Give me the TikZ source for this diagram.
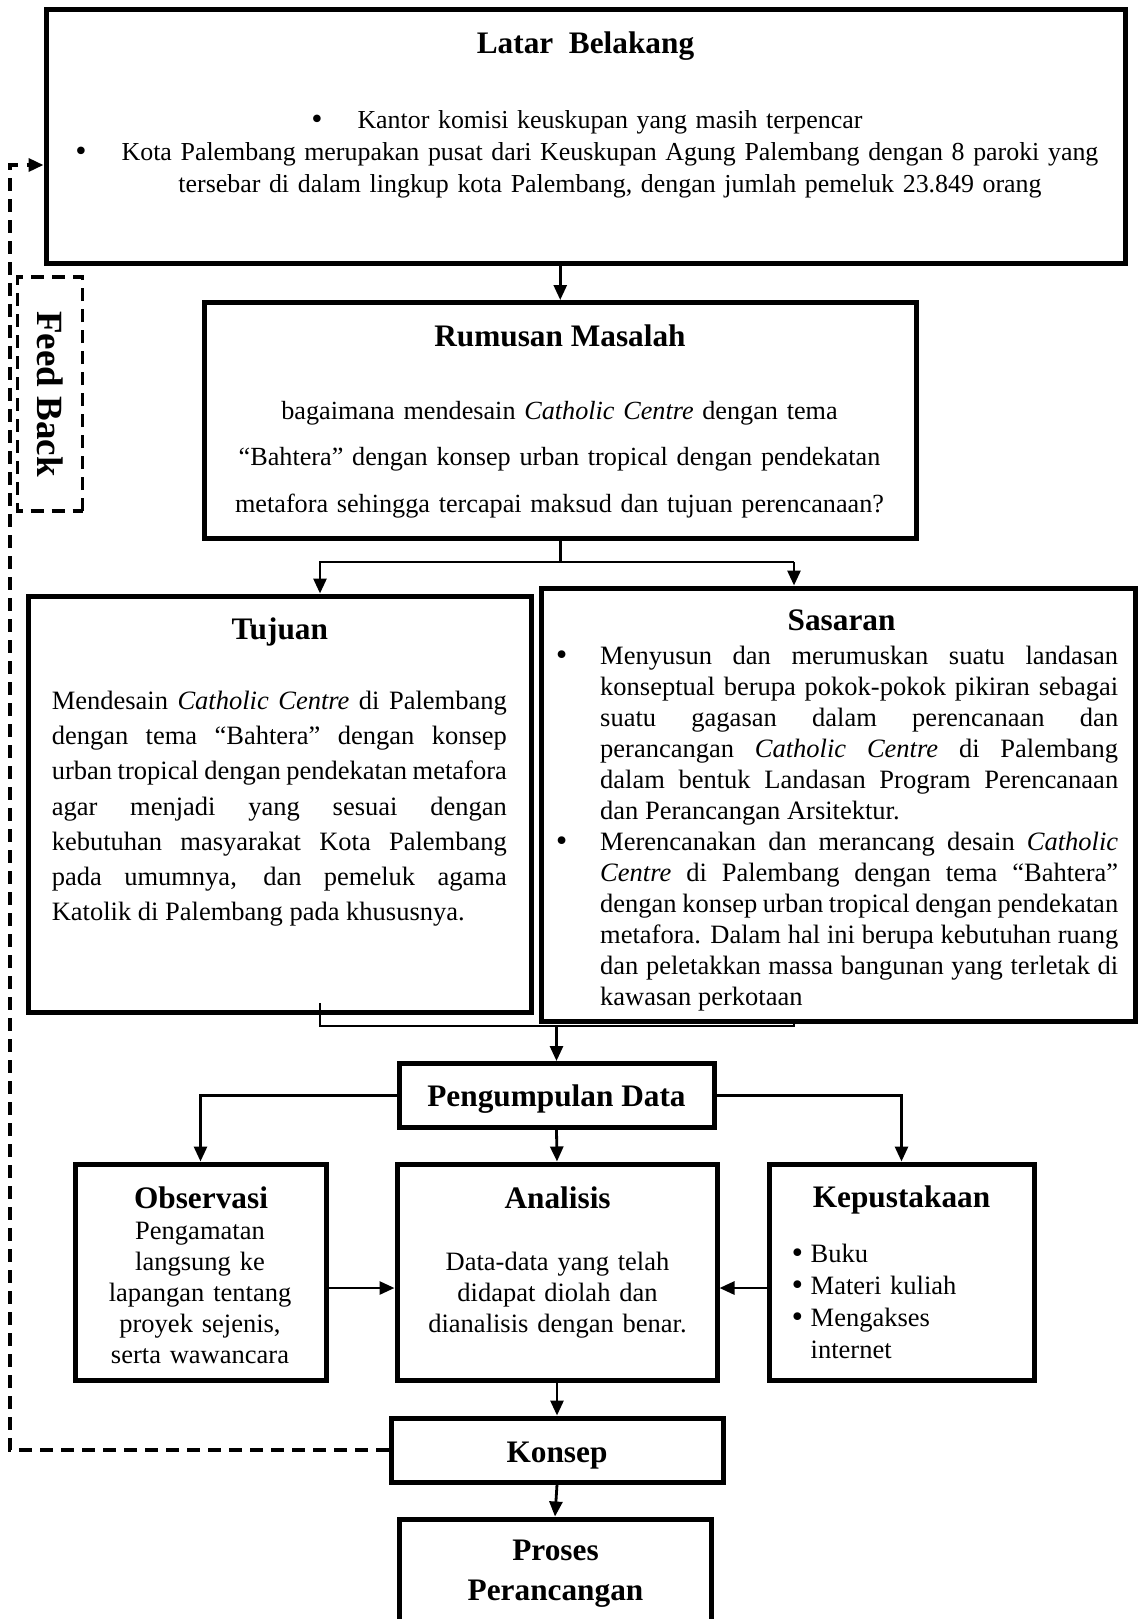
\documentclass[tikz,border=0pt]{standalone}
\usepackage{fontspec}
\setmainfont{Liberation Serif}
\newfontfamily\symfont{DejaVu Sans}
\usetikzlibrary{arrows.meta}

\newcommand{\bodyfont}[1]{\fontsize{26.5pt}{#1}\selectfont}
\newcommand{\headfont}{\fontsize{31.3pt}{40pt}\selectfont\bfseries}
\newcommand{\dotmark}{\makebox[9pt]{\symfont\textbullet}}
\newcommand{\hangdot}[1]{\leavevmode\llap{\dotmark\hspace{#1}}}

\begin{document}
\begin{tikzpicture}[
    x=1pt, y=-1pt,
    block/.style={rectangle, draw=black, line width=5pt, inner sep=0pt},
    head/.style={font=\headfont, anchor=base, inner sep=0pt},
    body/.style={anchor=base, inner sep=0pt},
    link/.style={line width=2.8pt},
    arrow/.style={line width=2.8pt, -{Triangle[length=15pt,width=13pt]}},
    feed/.style={line width=3.5pt, dash pattern=on 13pt off 8pt}
]
    \useasboundingbox (0,0) rectangle (1141,1619);
    \clip (0,0) rectangle (1141,1619);

    % boxes
    \node[block, minimum width=1079pt, minimum height=253pt] (latar) at (585.5,136.5) {};
    \node[block, minimum width=711.5pt, minimum height=235.5pt] (rumusan) at (560.25,420.25) {};
    \node[block, minimum width=503pt, minimum height=416pt] (tujuan) at (279.5,804) {};
    \node[block, minimum width=594pt, minimum height=433pt] (sasaran) at (838,804.5) {};
    \node[block, minimum width=315pt, minimum height=64pt] (pengumpulan) at (556.5,1095.5) {};
    \node[block, minimum width=251pt, minimum height=216pt] (observasi) at (200.5,1272) {};
    \node[block, minimum width=320pt, minimum height=216pt] (analisis) at (557,1272) {};
    \node[block, minimum width=265pt, minimum height=216pt] (kepustakaan) at (901.5,1272) {};
    \node[block, minimum width=332pt, minimum height=64pt] (konsep) at (557,1450) {};
    \node[block, minimum width=312pt, minimum height=121pt] (proses) at (555,1579.5) {};
    \node[feed, draw=black, rotate=-90, minimum width=234pt, minimum height=65pt,
        inner sep=0pt, font=\fontsize{37pt}{40pt}\selectfont\bfseries] (feedback) at (50,394) {Feed Back};

    % texts
    \node[head] (latartitle) at (585.5,53.6) {Latar~~Belakang};
    \node[body, text width=1000pt, align=center, font=\fontsize{25.9pt}{32.1pt}\selectfont] (latartext) at (610,128.6)
        {\hangdot{36pt}Kantor komisi keuskupan yang masih terpencar\\
         \hangdot{36pt}Kota Palembang merupakan pusat dari Keuskupan Agung Palembang dengan 8 paroki yang\\
         tersebar di dalam lingkup kota Palembang, dengan jumlah pemeluk 23.849 orang};

    \node[head] (rumusantitle) at (560,346) {Rumusan Masalah};
    \node[body, text width=690pt, align=center, font=\fontsize{26.2pt}{46.3pt}\selectfont] (rumusantext) at (559.5,419.5)
        {bagaimana mendesain \textit{Catholic Centre} dengan tema\\
         ``Bahtera'' dengan konsep urban tropical dengan pendekatan\\
         metafora sehingga tercapai maksud dan tujuan perencanaan?};

    \node[head] (tujuantitle) at (279.8,639) {Tujuan};
    \node[body, anchor=base west, text width=455pt, align=justify, font=\bodyfont{35.2pt}] (tujuantext) at (51.6,709.5)
        {Mendesain \textit{Catholic Centre} di Palembang\linebreak
         dengan tema ``Bahtera'' dengan konsep\linebreak
         urban tropical dengan pendekatan metafora\linebreak
         agar menjadi yang sesuai dengan\linebreak
         kebutuhan masyarakat Kota Palembang\linebreak
         pada umumnya, dan pemeluk agama\linebreak
         Katolik di Palembang pada khususnya.};

    \node[head] (sasarantitle) at (841.6,630.5) {Sasaran};
    \node[body, anchor=base west, text width=518pt, align=justify, font=\bodyfont{31pt}] (sasarantext) at (600,664)
        {\hangdot{34pt}Menyusun dan merumuskan suatu landasan\linebreak
         konseptual berupa pokok-pokok pikiran sebagai\linebreak
         suatu gagasan dalam perencanaan dan\linebreak
         perancangan \textit{Catholic Centre} di Palembang\linebreak
         dalam bentuk Landasan Program Perencanaan\linebreak
         dan Perancangan Arsitektur.\par
         \hangdot{34pt}Merencanakan dan merancang desain \textit{Catholic}\linebreak
         \textit{Centre} di Palembang dengan tema ``Bahtera''\linebreak
         dengan konsep urban tropical dengan pendekatan\linebreak
         metafora. Dalam hal ini berupa kebutuhan ruang\linebreak
         dan peletakkan massa bangunan yang terletak di\linebreak
         kawasan perkotaan};

    \node[head] (pengumpulantitle) at (556.5,1106) {Pengumpulan Data};

    \node[head] (observasititle) at (201,1208) {Observasi};
    \node[body, text width=250pt, align=center, font=\bodyfont{31pt}] (observasitext) at (200,1239)
        {Pengamatan\\ langsung ke\\ lapangan tentang\\ proyek sejenis,\\ serta wawancara};

    \node[head] (analisistitle) at (557.6,1208) {Analisis};
    \node[body, text width=310pt, align=center, font=\bodyfont{31pt}] (analisistext) at (557.5,1270)
        {Data-data yang telah\\ didapat diolah dan\\ dianalisis dengan benar.};

    \node[head] (kepustakaantitle) at (901.5,1207) {Kepustakaan};
    \node[body, anchor=base west, text width=235pt, align=left, font=\bodyfont{32pt}] (kepustakaantext) at (792.7,1262)
        {\dotmark\ Buku\\ \dotmark\ Materi kuliah\\ \dotmark\ Mengakses\\ \phantom{\dotmark\ }internet};

    \node[head] (konseptitle) at (557,1462) {Konsep};
    \node[head, text width=300pt, align=center] (prosestitle) at (555.5,1560) {Proses\\ Perancangan};

    % connectors
    \coordinate (splitL) at (320,562);
    \coordinate (splitR) at (794,562);
    \coordinate (joinT) at (320,1003);
    \coordinate (joinL) at (320,1026);
    \coordinate (joinR) at (794,1026);
    \coordinate (midrow) at (557,1288);
    \coordinate (fbtop) at (10,165);

    \draw[arrow] (latar.south -| rumusan.north) -- (rumusan.north);
    \draw[link] (rumusan.south) -- (rumusan.south |- splitL);
    \draw[arrow] (splitR) -| (splitL) -- (splitL |- tujuan.north);
    \draw[arrow] (splitR) -- (splitR |- sasaran.north);
    \draw[link] (joinT) -- (joinL) -- (joinR) -- (joinR |- sasaran.south);
    \draw[arrow] (pengumpulan.north |- joinL) -- (pengumpulan.north);
    \draw[arrow] (pengumpulan.west) -| (observasi.north);
    \draw[arrow] (pengumpulan.east) -| (kepustakaan.north);
    \draw[arrow] (pengumpulan.south) -- (analisis.north);
    \draw[arrow] (observasi.east |- midrow) -- (analisis.west |- midrow);
    \draw[arrow] (kepustakaan.west |- midrow) -- (analisis.east |- midrow);
    \draw[arrow] (analisis.south -| konsep.north) -- (konsep.north);
    \draw[arrow] (konsep.south) -- (proses.north);
    \draw[feed, -{Triangle[length=15pt,width=13pt]}] (konsep.west) -| (fbtop) -- (latar.west |- fbtop);
\end{tikzpicture}
\end{document}
